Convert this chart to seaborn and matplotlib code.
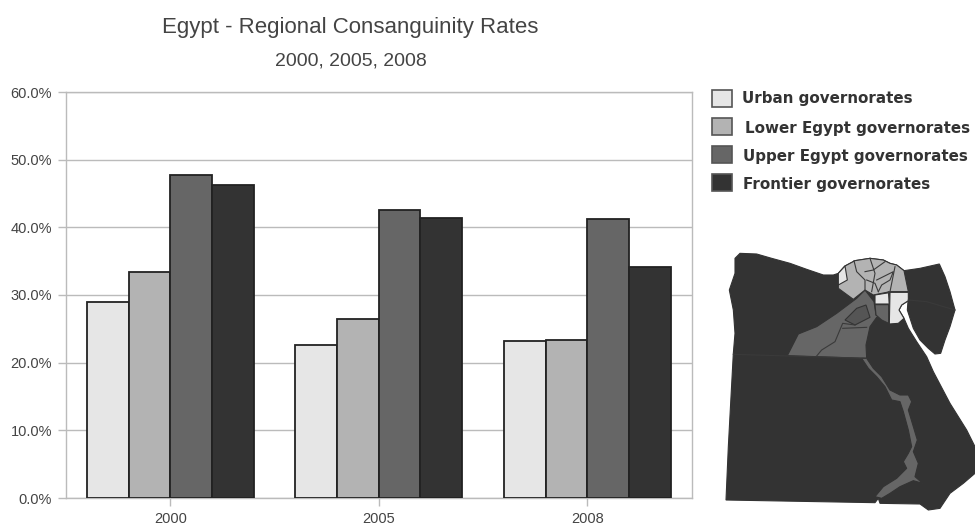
import matplotlib
matplotlib.use("Agg")
import matplotlib.pyplot as plt
from matplotlib.patches import Polygon, Rectangle
import pandas as pd
import seaborn as sns

W, H = 975, 530

years = ["2000", "2005", "2008"]
regions = ["Urban governorates", "Lower Egypt governorates",
           "Upper Egypt governorates", "Frontier governorates"]
urban = [29.0, 22.6, 23.2]
lower = [33.4, 26.5, 23.4]
upper = [47.7, 42.6, 41.2]
frontier = [46.2, 41.4, 34.2]
colors = ["#e6e6e6", "#b3b3b3", "#666666", "#333333"]
y_ticks = [0, 10, 20, 30, 40, 50, 60]

# Map outlines, in the local coordinates of the map panel
mainland = [(105, 85), (120, 70), (170, 72), (215, 85), (270, 100), (320, 118), (370, 135),
            (400, 135), (415, 130), (435, 108), (465, 92), (510, 85), (550, 90), (570, 100),
            (590, 105), (612, 122), (625, 185), (625, 212), (605, 225), (597, 240), (612, 265),
            (625, 295), (650, 335), (680, 380), (700, 425), (750, 520), (800, 600), (825, 650),
            (825, 730), (790, 760), (750, 790), (720, 835), (685, 840), (660, 822), (540, 820),
            (535, 805), (525, 818), (78, 810), (85, 650), (100, 370), (105, 310), (100, 240),
            (88, 180), (105, 130)]
sinai = [(612, 122), (660, 115), (718, 102), (735, 140), (750, 185), (765, 240), (750, 290),
         (735, 330), (722, 370), (705, 372), (685, 355), (660, 330), (640, 295), (622, 240),
         (625, 200)]
upper_main = [(262, 377), (295, 312), (350, 290), (410, 250), (470, 205), (495, 180), (522, 215),
              (528, 255), (560, 275), (530, 262), (510, 290), (498, 345), (500, 385)]
nile = [(485, 385), (500, 385), (520, 415), (545, 440), (570, 480), (600, 495), (625, 495),
        (635, 515), (625, 540), (640, 590), (652, 630), (640, 665), (655, 700), (645, 740),
        (668, 760), (640, 752), (600, 770), (570, 790), (545, 805), (525, 800), (550, 770),
        (590, 745), (620, 715), (610, 695), (625, 670), (635, 650), (625, 600), (610, 545),
        (600, 515), (575, 510), (555, 470), (530, 440), (505, 415)]
delta = [(415, 130), (435, 108), (465, 92), (510, 85), (550, 90), (570, 100), (590, 105),
         (612, 122), (625, 185), (570, 185), (520, 195), (495, 180), (460, 208), (415, 175)]
alexandria = [(415, 130), (435, 108), (442, 150), (415, 165)]
cairo = [(525, 195), (568, 188), (568, 222), (525, 222)]
suez = [(570, 187), (625, 187), (625, 212), (605, 225), (597, 240), (612, 265), (595, 280), (568, 282)]
giza = [(525, 224), (566, 224), (566, 280), (545, 270), (528, 255)]
fayoum = [(435, 270), (470, 235), (498, 225), (510, 262), (465, 285)]
borders = [
    [(625, 210), (680, 215), (765, 240)],
    [(350, 378), (365, 360), (405, 335), (428, 280), (465, 285)],
    [(428, 295), (500, 292)],
    [(462, 92), (470, 125), (495, 150), (495, 180)],
    [(510, 85), (525, 130), (515, 185)],
    [(495, 125), (520, 120), (555, 95)],
    [(500, 150), (525, 160), (535, 185)],
    [(530, 150), (580, 125), (570, 150), (545, 165), (535, 185)],
    [(585, 110), (570, 185)],
    [(565, 185), (568, 222)],
    [(100, 373), (500, 385)],
]

df = pd.DataFrame({"year": years * 4,
                   "region": [r for r in regions for _ in years],
                   "rate": urban + lower + upper + frontier})

plt.rcParams["font.family"] = ["Liberation Sans", "DejaVu Sans"]
fig = plt.figure(figsize=(W / 100, H / 100), dpi=100, facecolor="white")

# Main grouped bar chart
ax = fig.add_axes([66 / W, 1 - 498 / H, 625.5 / W, 406 / H])
sns.barplot(data=df, x="year", y="rate", hue="region", hue_order=regions, palette=colors,
            saturation=1, width=0.8, gap=0, edgecolor="#222222", linewidth=1.3,
            legend=False, ax=ax, zorder=3)
ax.set_xlim(-0.5, 2.5)
ax.set_ylim(0, 60)
ax.set_xlabel("")
ax.set_ylabel("")
ax.set_yticks(y_ticks)
ax.set_yticklabels([f"{v:.1f}%" for v in y_ticks])
ax.grid(axis="y", color="#bbbbbb", linewidth=1, zorder=0)
ax.set_axisbelow(True)
ax.tick_params(axis="both", colors="#bbbbbb", length=6, width=1, labelcolor="#444444",
               labelsize=10.5, pad=4)
for spine in ax.spines.values():
    spine.set_color("#bbbbbb")
    spine.set_linewidth(1)

fig.text(350 / W, 1 - 27 / H, "Egypt - Regional Consanguinity Rates", ha="center", va="center",
         fontsize=16, color="#444444")
fig.text(351 / W, 1 - 61 / H, "2000, 2005, 2008", ha="center", va="center",
         fontsize=14, color="#444444")

# Overlay in figure pixels for the legend entries
overlay = fig.add_axes([0, 0, 1, 1], facecolor="none")
overlay.set_xlim(0, W)
overlay.set_ylim(H, 0)
overlay.axis("off")
swatch_y = [90, 118, 146, 174]
label_y = [98, 128, 157, 184]
label_x = [742, 745, 743, 743]
for sy, ly, lx, label, color in zip(swatch_y, label_y, label_x, regions, colors):
    overlay.add_patch(Rectangle((711.5, sy), 20, 17, facecolor=color, edgecolor="#555555", linewidth=1.2))
    overlay.text(lx, ly, label, ha="left", va="center", fontsize=10.9, fontweight="bold",
                 family="DejaVu Sans", color="#333333")

# Map panel of the governorates
mp = fig.add_axes([700 / W, 1 - 520 / H, 275 / W, 290 / H], facecolor="none")
mp.set_xlim(0, 825)
mp.set_ylim(870, 0)
mp.axis("off")
shapes = [(mainland, colors[3]), (sinai, colors[3]), (upper_main, colors[2]), (nile, colors[2]),
          (delta, colors[1]), (alexandria, colors[0]), (cairo, colors[0]), (suez, colors[0]),
          (giza, colors[2]), (fayoum, "#555555")]
for points, color in shapes:
    mp.add_patch(Polygon(points, closed=True, facecolor=color, edgecolor="#333333", linewidth=0.8))
for line in borders:
    xs, ys = zip(*line)
    mp.plot(xs, ys, color="#3a3a3a", linewidth=0.8)

fig.savefig("out.png", dpi=100, facecolor="white")
